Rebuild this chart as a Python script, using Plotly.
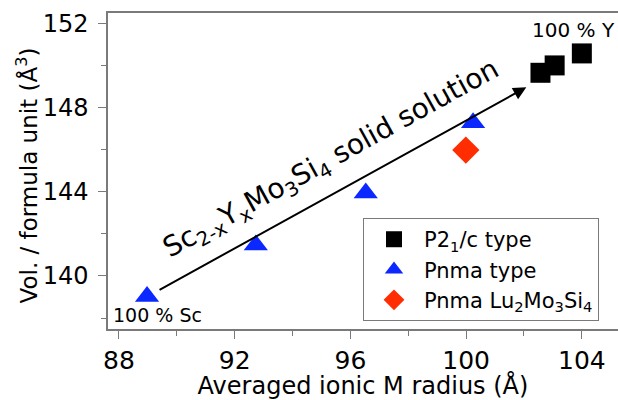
import plotly.graph_objects as go

# Data
p21c_x = [102.57, 103.06, 104.0]
p21c_y = [149.65, 150.0, 150.57]
pnma_x = [88.97, 92.73, 96.53, 100.24]
pnma_y = [139.02, 141.47, 143.94, 147.28]
lu_x = [99.99]
lu_y = [145.98]
arrow_start = (89.35, 139.3)
arrow_end = (102.08, 148.96)
x_ticks = [88, 92, 96, 100, 104]
y_ticks = [140, 144, 148, 152]

FONT = "DejaVu Sans"

fig = go.Figure()
fig.add_trace(go.Scatter(x=p21c_x, y=p21c_y, mode="markers", name="P2<sub>1</sub>/c type",
                         marker=dict(symbol="square", size=20, color="black")))
fig.add_trace(go.Scatter(x=pnma_x, y=pnma_y, mode="markers", name="Pnma type",
                         marker=dict(symbol="triangle-up", size=21, color="rgb(10,40,255)")))
fig.add_trace(go.Scatter(x=lu_x, y=lu_y, mode="markers",
                         name="Pnma Lu<sub>2</sub>Mo<sub>3</sub>Si<sub>4</sub>",
                         marker=dict(symbol="diamond", size=21, color="rgb(255,45,0)")))

fig.add_annotation(x=arrow_end[0], y=arrow_end[1], ax=arrow_start[0], ay=arrow_start[1],
                   xref="x", yref="y", axref="x", ayref="y", text="", showarrow=True,
                   arrowhead=2, arrowsize=1.3, arrowwidth=2, arrowcolor="black")
fig.add_annotation(x=95.36, y=145.55, xref="x", yref="y", showarrow=False, textangle=-29,
                   text="Sc<sub>2-x</sub>Y<sub>x</sub>Mo<sub>3</sub>Si<sub>4</sub> solid solution",
                   font=dict(size=28, color="black", family=FONT))
fig.add_annotation(x=105.21, y=151.68, xref="x", yref="y", showarrow=False, xanchor="right",
                   text="100 % Y", font=dict(size=20, color="black", family=FONT))
fig.add_annotation(x=87.72, y=138.15, xref="x", yref="y", showarrow=False, xanchor="left",
                   text="100 % Sc", font=dict(size=19, color="black", family=FONT))
# y-axis title
fig.add_annotation(x=-0.158, y=0.487, xref="paper", yref="paper", showarrow=False, textangle=-90,
                   xanchor="center", yanchor="middle",
                   text="Vol. / formula unit (Å<sup>3</sup>)", font=dict(size=23, color="black", family=FONT))

fig.update_xaxes(range=[87.62, 105.25], tickvals=x_ticks, ticks="outside", ticklen=8,
                 tickcolor="#7a7a7a", showline=True, linecolor="#7a7a7a", linewidth=1.5,
                 mirror=True, showgrid=False, zeroline=False,
                 minor=dict(dtick=2, tick0=88, ticks="outside", ticklen=5, tickcolor="#7a7a7a"),
                 tickfont=dict(size=25, color="black", family=FONT),
                 title=dict(text="Averaged ionic M radius (Å)", font=dict(size=24, color="black", family=FONT),
                            standoff=0))
fig.update_yaxes(range=[137.48, 152.49], tickvals=y_ticks, ticks="outside", ticklen=8,
                 tickcolor="#7a7a7a", showline=True, linecolor="#7a7a7a", linewidth=1.5,
                 showgrid=False, zeroline=False, ticklabelstandoff=5,
                 minor=dict(dtick=2, tick0=138, ticks="outside", ticklen=5, tickcolor="#7a7a7a"),
                 tickfont=dict(size=24, color="black", family=FONT))

fig.update_layout(width=618, height=400, margin=dict(l=108, r=0, t=13, b=71),
                  plot_bgcolor="white", paper_bgcolor="white",
                  font=dict(family=FONT),
                  legend=dict(x=0.5, y=0.351, xanchor="left", yanchor="top",
                              bordercolor="#7a7a7a", borderwidth=1, bgcolor="white",
                              font=dict(size=21, color="black", family=FONT),
                              itemsizing="trace", itemwidth=50, tracegroupgap=0))

fig.write_html("out.html")
